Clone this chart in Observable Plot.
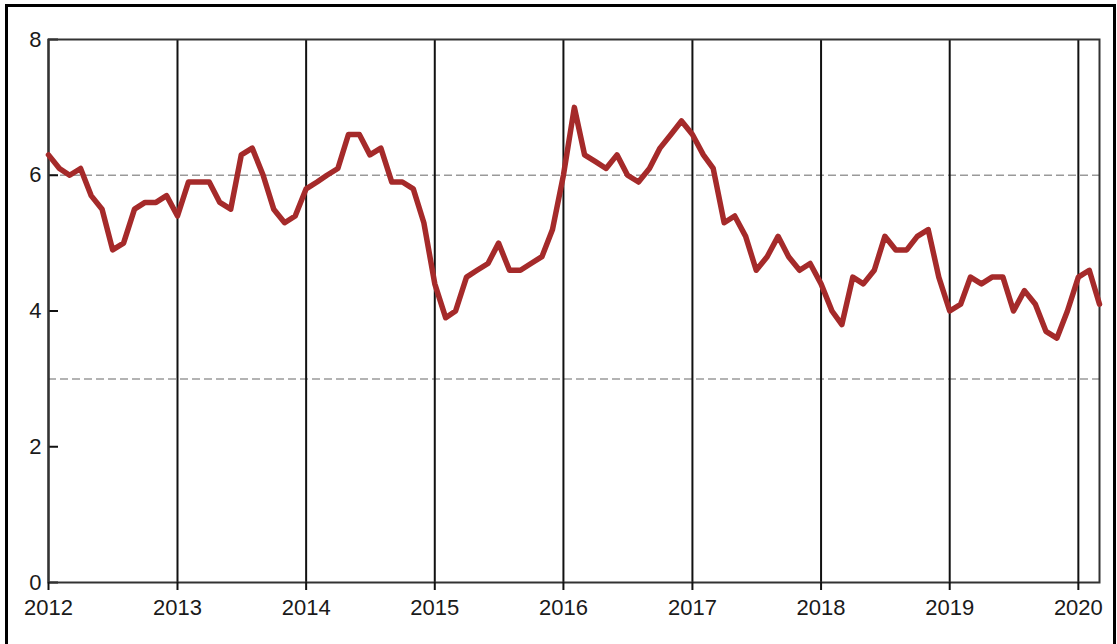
<!DOCTYPE html>
<html><head><meta charset="utf-8">
<script src="https://cdn.jsdelivr.net/npm/d3@7"></script>
<script src="https://cdn.jsdelivr.net/npm/@observablehq/plot@0.6"></script>
<style>
body{margin:0;background:#fff;overflow:hidden}
#wrap{position:relative;width:1117px;height:644px;overflow:hidden}
#border{position:absolute;left:5px;top:4px;width:1111px;height:700px;border:3px solid #000;border-bottom:none;box-sizing:border-box;pointer-events:none}
#chart{position:absolute;left:0;top:0}
</style></head><body>
<div id="wrap"><div id="chart"></div><div id="border"></div></div>
<script>
// Monthly values, Jan 2012 .. Mar 2020
const values2012 = [6.3, 6.1, 6.0, 6.1, 5.7, 5.5, 4.9, 5.0, 5.5, 5.6, 5.6, 5.7];
const values2013 = [5.4, 5.9, 5.9, 5.9, 5.6, 5.5, 6.3, 6.4, 6.0, 5.5, 5.3, 5.4];
const values2014 = [5.8, 5.9, 6.0, 6.1, 6.6, 6.6, 6.3, 6.4, 5.9, 5.9, 5.8, 5.3];
const values2015 = [4.4, 3.9, 4.0, 4.5, 4.6, 4.7, 5.0, 4.6, 4.6, 4.7, 4.8, 5.2];
const values2016 = [6.0, 7.0, 6.3, 6.2, 6.1, 6.3, 6.0, 5.9, 6.1, 6.4, 6.6, 6.8];
const values2017 = [6.6, 6.3, 6.1, 5.3, 5.4, 5.1, 4.6, 4.8, 5.1, 4.8, 4.6, 4.7];
const values2018 = [4.4, 4.0, 3.8, 4.5, 4.4, 4.6, 5.1, 4.9, 4.9, 5.1, 5.2, 4.5];
const values2019 = [4.0, 4.1, 4.5, 4.4, 4.5, 4.5, 4.0, 4.3, 4.1, 3.7, 3.6, 4.0];
const values2020 = [4.5, 4.6, 4.1];

const years = [2012, 2013, 2014, 2015, 2016, 2017, 2018, 2019, 2020];
const yTicks = [0, 2, 4, 6, 8];
const refLines = [3, 6];

const seriesByYear = [values2012, values2013, values2014, values2015, values2016, values2017, values2018, values2019, values2020];
const data = [];
seriesByYear.forEach((arr, i) => {
  arr.forEach((v, m) => data.push({date: new Date(Date.UTC(years[i], m, 1)), value: v}));
});
const yearDates = years.map(y => new Date(Date.UTC(y, 0, 1)));

const chart = Plot.plot({
  width: 1117, height: 644,
  marginLeft: 48, marginRight: 18, marginTop: 39, marginBottom: 62,
  style: {fontFamily: "'Liberation Sans', Arial, sans-serif", fontSize: "22px", color: "#1a1a1a", background: "transparent"},
  x: {type: "utc", domain: [data[0].date, data[data.length - 1].date], label: null},
  y: {domain: [0, 8], label: null},
  marks: [
    Plot.ruleY(refLines, {stroke: "#9a9a9a", strokeWidth: 1.5, strokeDasharray: "8,4"}),
    Plot.ruleX(yearDates, {stroke: "#111", strokeWidth: 2}),
    Plot.ruleY(yTicks, {stroke: "#111", strokeWidth: 2, insetRight: 1041}),
    Plot.frame({stroke: "#333", strokeWidth: 2}),
    Plot.axisX(yearDates, {tickSize: 8, tickPadding: 9, tickFormat: d3.utcFormat("%Y"), stroke: "#111", strokeWidth: 2, label: null}),
    Plot.axisY(yTicks, {tickSize: 0, tickPadding: 7, tickFormat: d3.format("d"), label: null}),
    Plot.lineY(data, {x: "date", y: "value", stroke: "#a52a2a", strokeWidth: 5.5, strokeLinejoin: "round"})
  ]
});
document.getElementById("chart").appendChild(chart);
</script>
</body></html>
